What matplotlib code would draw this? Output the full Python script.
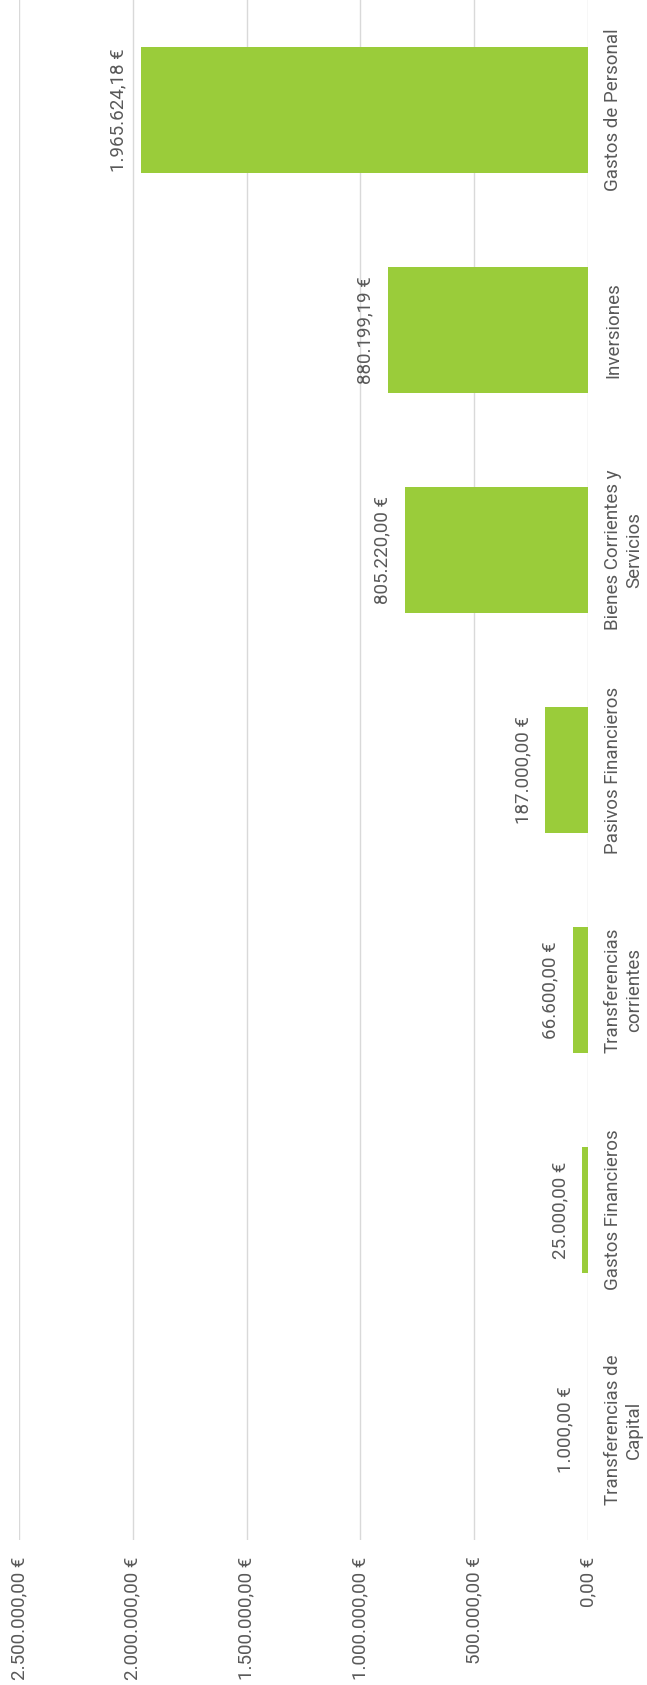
import matplotlib as mpl
import matplotlib.pyplot as plt

mpl.rcParams["font.family"] = ["Roboto", "DejaVu Sans"]

# DATA (bottom to top of the rotated chart)
categorias = [
    "Transferencias de\nCapital",
    "Gastos Financieros",
    "Transferencias\ncorrientes",
    "Pasivos Financieros",
    "Bienes Corrientes y\nServicios",
    "Inversiones",
    "Gastos de Personal",
]
importes = [1000.00, 25000.00, 66600.00, 187000.00, 805220.00, 880199.19, 1965624.18]
ticks = [0, 500000, 1000000, 1500000, 2000000, 2500000]

VERDE = "#9ACC3A"
GRIS_TXT = "#595959"
GRIS_LINEA = "#D9D9D9"
FS = 13.5
PESO = "normal"


def euros(v):
    s = f"{v:,.2f}".replace(",", "X").replace(".", ",").replace("X", ".")
    return s + " €"


def main():
    fig = plt.figure(figsize=(6.47, 16.85), dpi=100)
    ax = fig.add_axes([19 / 647, 145 / 1685, 569 / 647, 1540 / 1685])

    pos = list(range(len(categorias)))
    ax.barh(pos, importes, height=0.57, color=VERDE, zorder=3)

    # value labels, rotated like the rest
    for p, v in zip(pos, importes):
        ax.annotate(euros(v), (v, p), xytext=(-13, 0), textcoords="offset pixels",
                    rotation=90, ha="right", va="center", fontsize=FS,
                    color=GRIS_TXT, fontweight=PESO)

    ax.set_xlim(2500000, 0)
    ax.set_ylim(-0.5, len(categorias) - 0.5)

    ax.set_xticks(ticks)
    ax.set_xticklabels([euros(t) for t in ticks], rotation=90, fontsize=FS,
                       color=GRIS_TXT, fontweight=PESO)
    ax.tick_params(axis="x", length=0, pad=12)

    ax.yaxis.tick_right()
    ax.set_yticks(pos)
    ax.set_yticklabels(categorias, rotation=90, va="center", ha="left",
                       fontsize=FS, color=GRIS_TXT, fontweight=PESO,
                       multialignment="center", linespacing=1.2)
    ax.tick_params(axis="y", length=0, pad=11.5)

    ax.grid(axis="x", color=GRIS_LINEA, lw=1, zorder=0)
    for s in ax.spines.values():
        s.set_visible(False)

    plt.savefig("out.png", dpi=100)


if __name__ == "__main__":
    main()
